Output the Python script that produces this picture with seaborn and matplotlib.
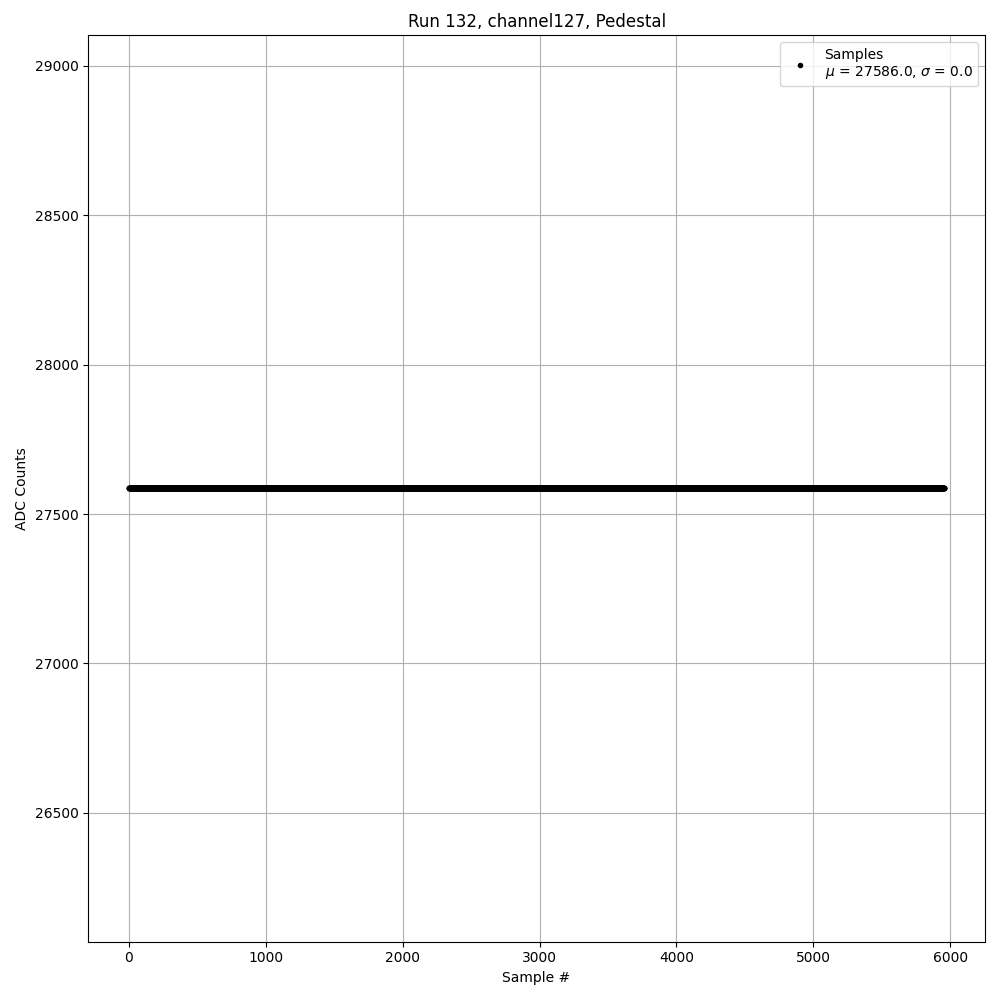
import matplotlib
matplotlib.use('Agg')
import matplotlib.pyplot as plt
import seaborn as sns
import numpy as np
import pandas as pd

# Pedestal samples for run 132, channel 127 (constant reading)
run_number = 132
channel = 127
n_samples = 5957
pedestal_value = 27586.0

samples = np.full(n_samples, pedestal_value)
df = pd.DataFrame({'sample': np.arange(n_samples), 'adc': samples})

mu = df['adc'].mean()
sigma = df['adc'].std(ddof=0)

fig, ax = plt.subplots(figsize=(10, 10), dpi=100)

sns.lineplot(data=df, x='sample', y='adc', ax=ax, color='k', marker='.',
             linestyle='', markeredgecolor='k', markeredgewidth=1.0,
             label=f'Samples\n$\\mu$ = {mu:.1f}, $\\sigma$ = {sigma:.1f}')

ax.set_ylim(mu * 0.945, mu * 1.055)
ax.set_title(f'Run {run_number}, channel{channel}, Pedestal')
ax.set_xlabel('Sample #')
ax.set_ylabel('ADC Counts')
ax.grid(True)
ax.legend(loc='upper right')

plt.tight_layout()
fig.subplots_adjust(top=0.965)
plt.savefig('out.png', dpi=100)
